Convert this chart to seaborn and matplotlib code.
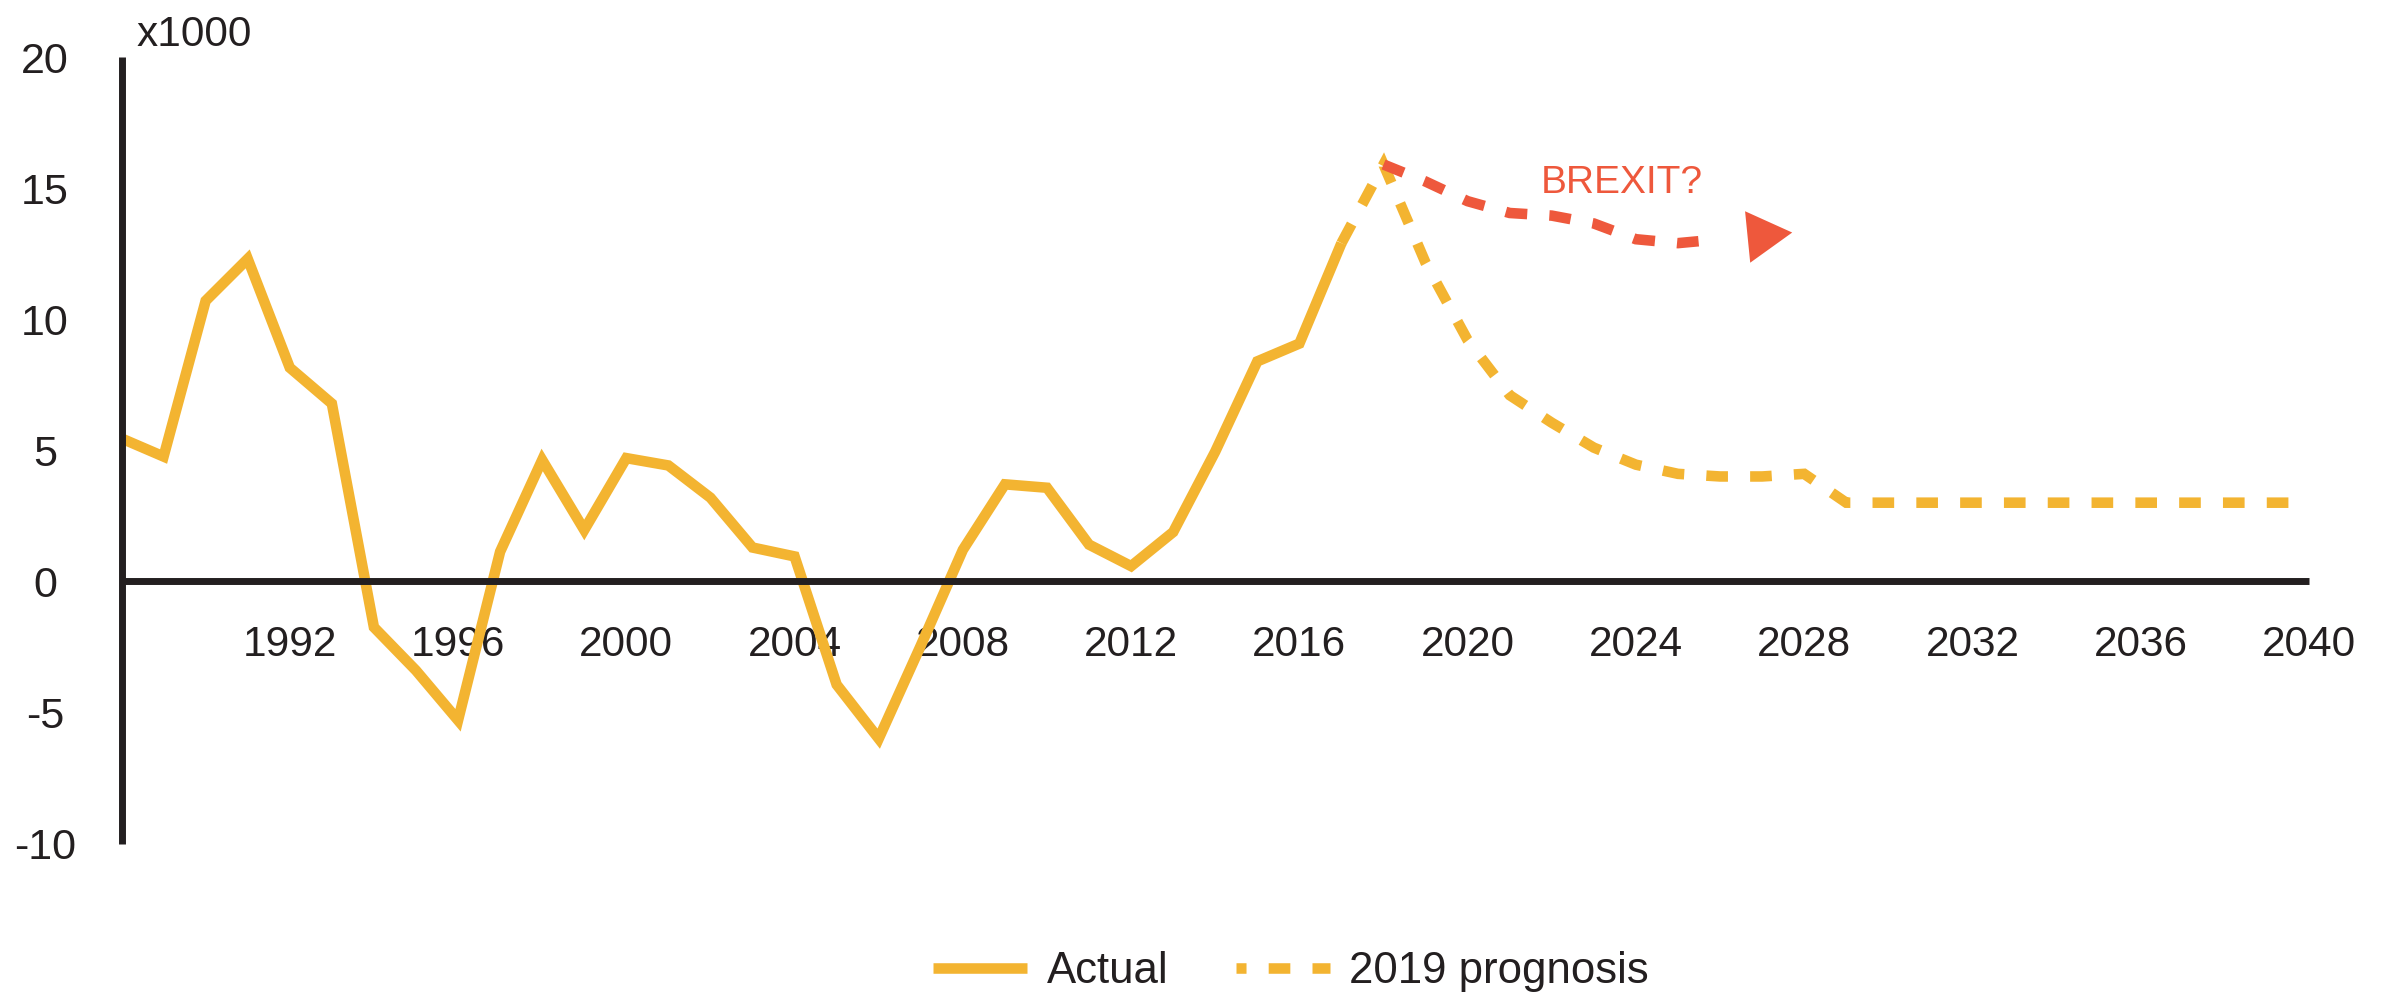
import matplotlib
matplotlib.use("Agg")
import matplotlib.pyplot as plt
import seaborn as sns
from matplotlib.lines import Line2D

# Net migration, thousands of people per year
actual_years = list(range(1988, 2018))
actual_values = [5.45, 4.76, 10.7, 12.3, 8.15, 6.78, -1.75, -3.4, -5.3, 1.13,
                 4.63, 1.96, 4.7, 4.42, 3.19, 1.29, 0.95, -3.94, -6.0, -2.45,
                 1.2, 3.7, 3.57, 1.4, 0.58, 1.88, 4.95, 8.39, 9.07, 12.9]

prognosis_years = list(range(2017, 2041))
prognosis_values = [12.9, 15.9, 12.15, 9.2, 7.1, 6.05, 5.1, 4.45, 4.1, 4.0,
                    4.0, 4.1, 3.0, 3.0, 3.0, 3.0, 3.0, 3.0, 3.0, 3.0,
                    3.0, 3.0, 3.0, 3.0]

brexit_years = list(range(2018, 2028))
brexit_values = [15.9, 15.25, 14.5, 14.05, 13.95, 13.65, 13.05, 12.9, 13.05, 13.2]

x_ticks = list(range(1992, 2041, 4))
y_ticks = [-10, -5, 0, 5, 10, 15, 20]
y_tick_labels = ["-10", "-5", "0", "5", "10", "15", "20"]

YELLOW = "#F3B431"
RED = "#EE583C"
DARK = "#231F20"
LW = 7.6
DASH = (0, (2.05, 2.1))

sns.set_theme(style="white")
plt.rcParams["font.family"] = ["Liberation Sans", "DejaVu Sans"]
plt.rcParams["text.color"] = DARK

fig = plt.figure(figsize=(23.83, 10.02), dpi=100)
ax = fig.add_axes([0.05099, 0.15818, 0.96894 - 0.05099, 0.94311 - 0.15818])

sns.lineplot(x=actual_years, y=actual_values, color=YELLOW, linewidth=LW,
             solid_joinstyle="miter", solid_capstyle="butt", ax=ax, legend=False)
sns.lineplot(x=prognosis_years, y=prognosis_values, color=YELLOW, linewidth=LW,
             linestyle=DASH, dash_capstyle="butt", dash_joinstyle="miter",
             ax=ax, legend=False)
sns.lineplot(x=brexit_years[:-1], y=brexit_values[:-1], color=RED, linewidth=LW,
             linestyle=DASH, dash_capstyle="butt", dash_joinstyle="miter",
             ax=ax, legend=False)
# arrowhead at the end of the Brexit scenario
ax.plot(brexit_years[-1], brexit_values[-1], linestyle="none",
        marker=(3, 0, -84.3), markersize=43, color=RED, markeredgewidth=0)

ax.set_xlim(1988, 2040)
ax.set_ylim(-10, 20)

for side in ("top", "right"):
    ax.spines[side].set_visible(False)
ax.spines["bottom"].set_position(("data", 0))
for side in ("left", "bottom"):
    ax.spines[side].set_linewidth(5)
    ax.spines[side].set_color(DARK)
    ax.spines[side].set_capstyle("butt")

ax.set_xticks(x_ticks)
ax.set_xticklabels([str(y) for y in x_ticks])
ax.set_yticks(y_ticks)
ax.set_yticklabels(y_tick_labels)
ax.tick_params(axis="x", length=0, pad=31.5, labelsize=30.5, labelcolor=DARK)
ax.tick_params(axis="y", length=0, pad=55, labelsize=31, labelcolor=DARK)
for lab in ax.get_yticklabels():
    lab.set_horizontalalignment("center")
ax.set_xlabel("")
ax.set_ylabel("")
ax.grid(False)

ax.annotate("x1000", xy=(0, 1), xycoords="axes fraction", xytext=(11, 8),
            textcoords="offset points", ha="left", va="baseline",
            fontsize=30.5, color=DARK)
ax.text(2021.73, 14.83, "BREXIT?", color=RED, fontsize=28,
        ha="left", va="baseline")

handles = [
    Line2D([0], [0], color=YELLOW, linewidth=LW, solid_capstyle="butt"),
    Line2D([0], [0], color=YELLOW, linewidth=LW,
           linestyle=(1.1, (2.05, 2.1)), dash_capstyle="butt"),
]
fig.legend(handles, ["Actual", "2019 prognosis"], loc="center",
           bbox_to_anchor=(0.5418, 0.030), ncol=2, frameon=False,
           fontsize=31.5, handlelength=2.14, handletextpad=0.45,
           columnspacing=1.55, labelcolor=DARK)

fig.savefig("out.png", dpi=100, facecolor="white")
